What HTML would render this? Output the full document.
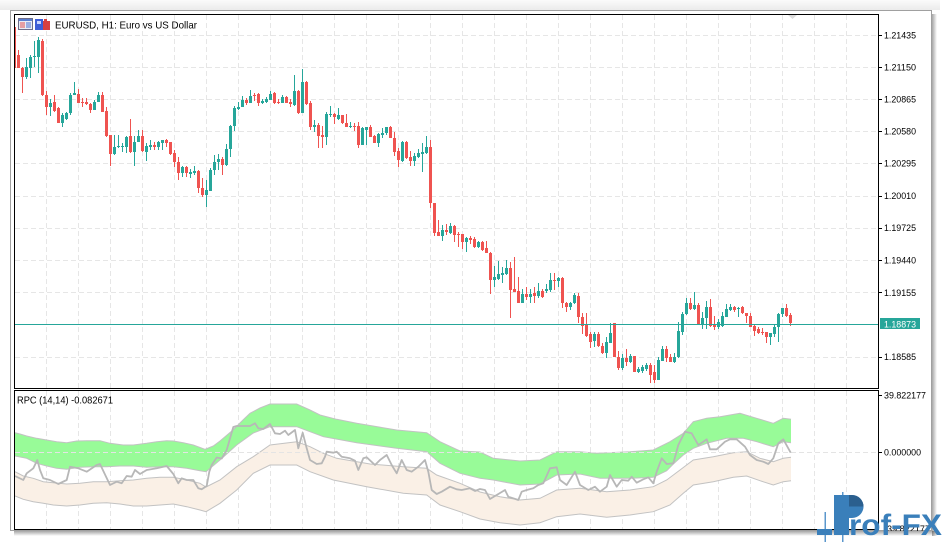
<!DOCTYPE html>
<html><head><meta charset="utf-8"><style>
html,body{margin:0;padding:0;background:#fff;}
svg{display:block;}
text{font-family:"Liberation Sans",sans-serif;}
</style></head><body>
<svg width="944" height="542" viewBox="0 0 944 542" xmlns="http://www.w3.org/2000/svg">
<defs>
<linearGradient id="tg" x1="0" y1="0" x2="0" y2="1"><stop offset="0" stop-color="#fbfbfb"/><stop offset="1" stop-color="#ebebeb"/></linearGradient>
<linearGradient id="sr" x1="0" y1="0" x2="1" y2="0"><stop offset="0" stop-color="#000" stop-opacity="0.35"/><stop offset="1" stop-color="#000" stop-opacity="0"/></linearGradient>
<linearGradient id="sb" x1="0" y1="0" x2="0" y2="1"><stop offset="0" stop-color="#000" stop-opacity="0.35"/><stop offset="1" stop-color="#000" stop-opacity="0"/></linearGradient>
<clipPath id="mc"><rect x="15" y="15" width="863" height="373"/></clipPath>
<clipPath id="ic"><rect x="15" y="391" width="863" height="138"/></clipPath>
<clipPath id="wc"><rect x="10" y="10" width="922" height="521"/></clipPath>
</defs>
<rect x="0" y="0" width="944" height="542" fill="#fff"/>
<rect x="0" y="0" width="940" height="10" fill="url(#tg)"/>
<rect x="932" y="14" width="5" height="522" fill="url(#sr)"/>
<rect x="14" y="531" width="923" height="5" fill="url(#sb)"/>
<rect x="10.5" y="10.5" width="921" height="520" fill="#fff" stroke="#a0a0a0"/>

<!-- main grid -->
<g stroke="#e6e6e6" stroke-width="1" stroke-dasharray="5 3" fill="none">
<path d="M46.5 15V388M78.5 15V388M110.5 15V388M142.5 15V388M174.5 15V388M206.5 15V388M238.5 15V388M270.5 15V388M302.5 15V388M334.5 15V388M366.5 15V388M398.5 15V388M430.5 15V388M462.5 15V388M494.5 15V388M526.5 15V388M558.5 15V388M590.5 15V388M622.5 15V388M654.5 15V388M686.5 15V388M718.5 15V388M750.5 15V388M782.5 15V388M814.5 15V388M846.5 15V388"/>
<path d="M15 35.5H878M15 67.5H878M15 99.5H878M15 131.5H878M15 163.5H878M15 196.5H878M15 228.5H878M15 260.5H878M15 292.5H878M15 357.5H878"/>
<path d="M46.5 391V529M78.5 391V529M110.5 391V529M142.5 391V529M174.5 391V529M206.5 391V529M238.5 391V529M270.5 391V529M302.5 391V529M334.5 391V529M366.5 391V529M398.5 391V529M430.5 391V529M462.5 391V529M494.5 391V529M526.5 391V529M558.5 391V529M590.5 391V529M622.5 391V529M654.5 391V529M686.5 391V529M718.5 391V529M750.5 391V529M782.5 391V529M814.5 391V529M846.5 391V529"/>
</g>
<polygon points="788,15 797,15 792.5,19" fill="#dcdcdc"/>

<!-- candles -->
<g clip-path="url(#mc)">
<rect x="15" y="27" width="1" height="41" fill="#ef5350"/>
<path fill="none" stroke="#ef5350" stroke-width="1" d="M18.5 50V68M22.5 67V93M42.5 39V96M46.5 91V115M54.5 95V112M58.5 107V123M78.5 89V103M82.5 98V107M86.5 98V105M90.5 103V113M102.5 92V112M106.5 107V137M110.5 135V166M130.5 119V153M142.5 130V152M154.5 142V150M166.5 139V147M170.5 142V155M174.5 150V167M178.5 157V180M186.5 166V177M198.5 170V193M202.5 178V197M222.5 157V175M246.5 98V105M254.5 93V101M258.5 93V106M274.5 92V104M278.5 99V104M286.5 96V103M290.5 99V107M298.5 90V114M306.5 81V105M310.5 101V130M318.5 123V148M322.5 126V148M334.5 113V124M342.5 115V124M346.5 114V127M354.5 123V131M358.5 122V148M370.5 125V137M374.5 135V143M390.5 126V138M394.5 132V156M398.5 148V167M406.5 141V159M410.5 151V166M430.5 140V208M434.5 203V236M438.5 220V236M446.5 224V235M454.5 225V242M458.5 232V247M462.5 234V249M470.5 236V244M474.5 237V248M482.5 241V251M486.5 241V253M490.5 252V294M510.5 262V318M514.5 257V292M518.5 277V303M526.5 287V300M534.5 287V303M542.5 289V298M554.5 273V290M562.5 277V308M566.5 302V312M578.5 293V323M582.5 313V334M586.5 313V337M590.5 332V348M598.5 332V347M602.5 343V354M614.5 323V357M618.5 351V370M626.5 349V366M634.5 356V372M650.5 363V383M654.5 365V383M666.5 346V362M670.5 354V362M690.5 298V310M698.5 303V324M710.5 299V327M714.5 316V330M734.5 306V312M742.5 306V314M746.5 313V323M750.5 313V327M754.5 325V336M758.5 327V334M762.5 328V335M766.5 332V343M786.5 304V317M790.5 313V326"/>
<path fill="#ef5350" d="M17 55h3v13h-3zM21 68h3v9h-3zM41 41h3v54h-3zM45 95h3v12h-3zM53 102h3v9h-3zM57 108h3v15h-3zM77 94h3v9h-3zM81 102h3v1h-3zM85 102h3v2h-3zM89 104h3v6h-3zM101 95h3v17h-3zM105 111h3v25h-3zM109 135h3v19h-3zM129 136h3v16h-3zM141 136h3v15h-3zM153 145h3v2h-3zM165 140h3v3h-3zM169 142h3v12h-3zM173 153h3v9h-3zM177 162h3v11h-3zM185 167h3v6h-3zM197 171h3v17h-3zM201 188h3v7h-3zM221 159h3v6h-3zM245 100h3v3h-3zM253 95h3v1h-3zM257 94h3v9h-3zM273 93h3v10h-3zM277 102h3v1h-3zM285 97h3v6h-3zM289 102h3v2h-3zM297 91h3v22h-3zM305 82h3v22h-3zM309 103h3v24h-3zM317 125h3v11h-3zM321 135h3v2h-3zM333 114h3v3h-3zM341 115h3v8h-3zM345 123h3v4h-3zM353 126h3v1h-3zM357 126h3v19h-3zM369 127h3v10h-3zM373 136h3v7h-3zM389 127h3v11h-3zM393 138h3v14h-3zM397 151h3v9h-3zM405 142h3v16h-3zM409 157h3v4h-3zM429 147h3v56h-3zM433 203h3v30h-3zM437 232h3v4h-3zM445 230h3v2h-3zM453 226h3v9h-3zM457 234h3v1h-3zM461 234h3v8h-3zM469 238h3v2h-3zM473 239h3v8h-3zM481 242h3v8h-3zM485 248h3v5h-3zM489 253h3v27h-3zM509 268h3v22h-3zM513 289h3v3h-3zM517 291h3v12h-3zM525 294h3v3h-3zM533 293h3v3h-3zM541 291h3v6h-3zM553 280h3v1h-3zM561 278h3v25h-3zM565 303h3v4h-3zM577 296h3v21h-3zM581 317h3v9h-3zM585 325h3v11h-3zM589 334h3v8h-3zM597 334h3v12h-3zM601 346h3v7h-3zM613 323h3v34h-3zM617 357h3v11h-3zM625 358h3v4h-3zM633 356h3v16h-3zM649 365h3v10h-3zM653 372h3v8h-3zM665 349h3v9h-3zM669 357h3v5h-3zM689 303h3v6h-3zM697 305h3v19h-3zM709 307h3v19h-3zM713 324h3v3h-3zM733 307h3v3h-3zM741 307h3v6h-3zM745 313h3v3h-3zM749 316h3v11h-3zM753 326h3v5h-3zM757 329h3v4h-3zM761 332h3v1h-3zM765 332h3v5h-3zM785 308h3v8h-3zM789 315h3v8h-3z"/>
<path fill="none" stroke="#26a69a" stroke-width="1" d="M26.5 58V79M30.5 55V78M34.5 41V67M38.5 37V73M50.5 99V116M62.5 113V127M66.5 112V120M70.5 93V115M74.5 82V95M94.5 100V110M98.5 92V102M114.5 135V155M118.5 135V148M122.5 143V152M126.5 136V153M134.5 136V166M138.5 130V142M146.5 143V161M150.5 140V150M158.5 141V150M162.5 140V150M182.5 166V177M190.5 169V178M194.5 166V175M206.5 180V207M210.5 168V191M214.5 155V175M218.5 154V170M226.5 144V166M230.5 125V157M234.5 106V131M238.5 102V110M242.5 96V107M250.5 90V103M262.5 99V104M266.5 97V103M270.5 91V100M282.5 95V103M294.5 75V106M302.5 69V113M314.5 120V132M326.5 112V145M330.5 106V117M338.5 108V120M350.5 122V128M362.5 127V145M366.5 127V145M378.5 133V147M382.5 128V138M386.5 127V135M402.5 141V162M414.5 153V166M418.5 149V158M422.5 143V172M426.5 136V154M442.5 225V241M450.5 223V234M466.5 237V252M478.5 241V248M494.5 266V287M498.5 261V280M502.5 267V283M506.5 260V275M522.5 289V303M530.5 289V303M538.5 283V298M546.5 284V293M550.5 273V292M558.5 277V287M570.5 302V310M574.5 293V304M594.5 332V347M606.5 337V358M610.5 323V343M622.5 354V370M630.5 354V363M638.5 367V373M642.5 365V373M646.5 363V371M658.5 357V380M662.5 346V361M674.5 353V363M678.5 322V358M682.5 312V335M686.5 298V315M694.5 292V310M702.5 312V329M706.5 301V329M718.5 319V329M722.5 312V327M726.5 304V317M730.5 304V311M738.5 307V317M770.5 333V345M774.5 325V337M778.5 313V342M782.5 308V317"/>
<path fill="#26a69a" d="M25 67h3v10h-3zM29 57h3v11h-3zM33 56h3v1h-3zM37 40h3v17h-3zM49 103h3v4h-3zM61 115h3v8h-3zM65 113h3v6h-3zM69 95h3v18h-3zM73 93h3v2h-3zM93 102h3v8h-3zM97 95h3v7h-3zM113 147h3v7h-3zM117 146h3v1h-3zM121 146h3v1h-3zM125 137h3v10h-3zM133 142h3v10h-3zM137 136h3v6h-3zM145 146h3v6h-3zM149 145h3v2h-3zM157 142h3v5h-3zM161 140h3v3h-3zM181 167h3v6h-3zM189 172h3v2h-3zM193 171h3v2h-3zM205 190h3v5h-3zM209 170h3v21h-3zM213 162h3v8h-3zM217 159h3v3h-3zM225 149h3v16h-3zM229 126h3v23h-3zM233 108h3v18h-3zM237 107h3v2h-3zM241 100h3v7h-3zM249 96h3v7h-3zM261 101h3v2h-3zM265 99h3v3h-3zM269 94h3v6h-3zM281 97h3v6h-3zM293 91h3v14h-3zM301 82h3v31h-3zM313 125h3v2h-3zM325 114h3v23h-3zM329 114h3v1h-3zM337 115h3v4h-3zM349 126h3v1h-3zM361 128h3v17h-3zM365 127h3v3h-3zM377 134h3v9h-3zM381 133h3v2h-3zM385 127h3v6h-3zM401 142h3v19h-3zM413 156h3v5h-3zM417 153h3v4h-3zM421 152h3v2h-3zM425 147h3v6h-3zM441 230h3v6h-3zM449 226h3v7h-3zM465 238h3v4h-3zM477 242h3v5h-3zM493 277h3v3h-3zM497 274h3v5h-3zM501 273h3v2h-3zM505 268h3v6h-3zM521 294h3v9h-3zM529 294h3v3h-3zM537 291h3v5h-3zM545 289h3v2h-3zM549 280h3v10h-3zM557 278h3v3h-3zM569 303h3v4h-3zM573 295h3v8h-3zM593 334h3v7h-3zM605 342h3v11h-3zM609 333h3v10h-3zM621 358h3v10h-3zM629 356h3v6h-3zM637 369h3v3h-3zM641 367h3v4h-3zM645 365h3v4h-3zM657 360h3v20h-3zM661 349h3v12h-3zM673 357h3v5h-3zM677 331h3v26h-3zM681 314h3v18h-3zM685 303h3v11h-3zM693 305h3v4h-3zM701 318h3v6h-3zM705 307h3v11h-3zM717 322h3v5h-3zM721 316h3v10h-3zM725 309h3v8h-3zM729 307h3v3h-3zM737 308h3v1h-3zM769 333h3v4h-3zM773 327h3v7h-3zM777 314h3v13h-3zM781 308h3v6h-3z"/>
<path d="M15 324.5H878" stroke="#26a69a" stroke-width="1"/>
</g>

<!-- indicator -->
<g clip-path="url(#ic)">
<polygon fill="#98fb98" stroke="none" points="15,432.7 20,434 26.7,436 36.7,438.3 46.7,440 56.7,441.7 66.7,442.7 76.7,441 86.7,440.7 100,440.7 110,443.3 123.3,445 133.3,445 146.7,443.3 156.7,441.7 166.7,440.7 173.3,441 183.3,442.7 193.3,445 205,449.3 213.3,446 220,441 233,430 243,420 250,413.3 260,408 270,404 296.7,404 310,410 320,415 336.7,419.3 356.7,423.3 396.7,430 426.7,432.7 440,441.7 460,451 480,452 493.3,458.3 520,461 540,460 556.7,451.7 580,451.7 596.7,453.3 630,451.7 653.3,450 670,441.7 683.3,433.3 693.3,421.7 706.7,418.3 720,416.7 740,413.3 756.7,418.3 773.3,423.3 783.3,418.3 791,419.3 791,442.7 783.3,441.7 773.3,446.7 756.7,441.7 743.3,438.3 726.7,438.3 706.7,443.3 693.3,448.3 683.3,455 673.3,464 666.7,470.7 653.3,477.3 630,478.3 600,478.3 580,474 556.7,475 540,484 520,485 493.3,480 480,478.3 460,473.3 440,463.3 426.7,451.7 396.7,448.3 356.7,442.7 323.3,436.7 310,431.7 296.7,426.7 270,426.7 253.3,433 236.7,445 220,460 206,471.7 200,470.7 186.7,468.3 173.3,466.7 160,466.7 146.7,467.3 133.3,466 120,466 106.7,466.7 93.3,466.7 80,467.3 66.7,469.3 56.7,468.3 46.7,466 36.7,463.3 26.7,458.3 15,456"/>
<polygon fill="#faf0e6" stroke="none" points="15,471.7 23.3,476 33.3,478.3 43.3,481.7 53.3,482.7 66.7,484 80,483.3 93.3,481.7 106.7,481.7 120,480.7 133.3,480 146.7,478.3 160,477.3 173.3,477.3 186.7,480 200,483.3 206,487 220,480 236.7,466.7 253.3,456.7 270,445 296.7,441.7 310,446.7 323.3,453.3 336.7,458.3 370,464 403.3,466.7 426.7,468.3 436.7,475 460,483.3 480,492 500,496.7 520,500 540,498.3 556.7,490 580,488.3 606.7,491.7 630,490 653.3,486.7 666.7,480 680,470 693.3,460 713.3,456.7 733.3,452.7 746.7,451.7 760,458.3 773.3,461.7 783.3,458.3 791,457.3 791,480.7 783.3,481.7 773.3,485 760,480.7 746.7,476 733.3,477.3 713.3,481.7 693.3,485 683.3,493.3 670,505 653.3,511.7 630,515 606.7,517.3 580,514 556.7,516.7 540,522.7 520,525 500,522.7 480,519 460,511.7 440,505 426.7,495 403.3,493.3 366.7,486.7 333.3,480 310,471.7 296.7,465 270,465 253.3,473.3 236.7,490 220,503.3 206,511.7 200,510 186.7,506.7 173.3,504 160,505 146.7,506 133.3,506 120,504 106.7,502.7 93.3,503.3 80,505 66.7,506 53.3,505 43.3,503.3 33.3,501.7 23.3,499.3 15,496"/>
<g fill="none" stroke="#c2c2c2" stroke-width="1">
<polyline points="15,432.7 20,434 26.7,436 36.7,438.3 46.7,440 56.7,441.7 66.7,442.7 76.7,441 86.7,440.7 100,440.7 110,443.3 123.3,445 133.3,445 146.7,443.3 156.7,441.7 166.7,440.7 173.3,441 183.3,442.7 193.3,445 205,449.3 213.3,446 220,441 233,430 243,420 250,413.3 260,408 270,404 296.7,404 310,410 320,415 336.7,419.3 356.7,423.3 396.7,430 426.7,432.7 440,441.7 460,451 480,452 493.3,458.3 520,461 540,460 556.7,451.7 580,451.7 596.7,453.3 630,451.7 653.3,450 670,441.7 683.3,433.3 693.3,421.7 706.7,418.3 720,416.7 740,413.3 756.7,418.3 773.3,423.3 783.3,418.3 791,419.3"/>
<polyline points="15,456 26.7,458.3 36.7,463.3 46.7,466 56.7,468.3 66.7,469.3 80,467.3 93.3,466.7 106.7,466.7 120,466 133.3,466 146.7,467.3 160,466.7 173.3,466.7 186.7,468.3 200,470.7 206,471.7 220,460 236.7,445 253.3,433 270,426.7 296.7,426.7 310,431.7 323.3,436.7 356.7,442.7 396.7,448.3 426.7,451.7 440,463.3 460,473.3 480,478.3 493.3,480 520,485 540,484 556.7,475 580,474 600,478.3 630,478.3 653.3,477.3 666.7,470.7 673.3,464 683.3,455 693.3,448.3 706.7,443.3 726.7,438.3 743.3,438.3 756.7,441.7 773.3,446.7 783.3,441.7 791,442.7"/>
<polyline points="15,471.7 23.3,476 33.3,478.3 43.3,481.7 53.3,482.7 66.7,484 80,483.3 93.3,481.7 106.7,481.7 120,480.7 133.3,480 146.7,478.3 160,477.3 173.3,477.3 186.7,480 200,483.3 206,487 220,480 236.7,466.7 253.3,456.7 270,445 296.7,441.7 310,446.7 323.3,453.3 336.7,458.3 370,464 403.3,466.7 426.7,468.3 436.7,475 460,483.3 480,492 500,496.7 520,500 540,498.3 556.7,490 580,488.3 606.7,491.7 630,490 653.3,486.7 666.7,480 680,470 693.3,460 713.3,456.7 733.3,452.7 746.7,451.7 760,458.3 773.3,461.7 783.3,458.3 791,457.3"/>
<polyline points="15,496 23.3,499.3 33.3,501.7 43.3,503.3 53.3,505 66.7,506 80,505 93.3,503.3 106.7,502.7 120,504 133.3,506 146.7,506 160,505 173.3,504 186.7,506.7 200,510 206,511.7 220,503.3 236.7,490 253.3,473.3 270,465 296.7,465 310,471.7 333.3,480 366.7,486.7 403.3,493.3 426.7,495 440,505 460,511.7 480,519 500,522.7 520,525 540,522.7 556.7,516.7 580,514 606.7,517.3 630,515 653.3,511.7 670,505 683.3,493.3 693.3,485 713.3,481.7 733.3,477.3 746.7,476 760,480.7 773.3,485 783.3,481.7 791,480.7"/>
</g>
<path d="M15 452.5H878" stroke="#e4e4e4" stroke-width="1" stroke-dasharray="5 3"/>
<polyline fill="none" stroke="#b7b7b7" stroke-width="1.8" stroke-linejoin="round" points="15,476 23.3,480 26.7,473.3 33.3,468.3 37.3,460 40,470 43.3,478.3 50,480 58.3,484 66.7,480 70,466.7 78.3,468.3 86.7,471.7 96.7,465 100,464 110,485 116.7,481.7 121.7,483.3 126.7,476 131.7,476.7 135,470 140,474 146.7,470 156.7,468.3 163.3,466.7 166.7,466 173.3,474 178.3,483.3 181.7,478.3 186.7,480 193.3,480 198.3,488.3 201.7,489.3 206.7,486 209.3,471.7 211.7,465 216.7,457.5 221.7,458.5 226.7,450 233.3,427 236.7,426 250,426 255,423.3 258.3,428.3 263.3,429 270,424 275,433.3 280,434 285,430.7 288.3,435 295,430 298.3,448.3 302.7,432.7 306.7,448.3 310,460 316.7,464 321.7,463.3 325,456.7 326.7,451.7 333.3,452.7 336.7,451.7 341.7,456.7 350,458.3 355,460.7 358.3,470 363.3,458.3 366.7,457.3 375,465 380,460 386.7,455 391.7,465 396.7,473.3 401.7,460 406.7,470 411.7,471.7 418.3,466.7 425,460 428.3,471.7 431.7,490 436.7,494 441.7,491.7 450,486.7 456.7,489.3 461.7,490 470,488.3 475,491 480,489 485,490 490,499 496.7,495 505,490 508.3,496.7 513.3,498.3 518.3,500 521.7,491.7 526.7,490 533.3,488.3 538.3,485 543.3,483.3 550,468.3 556.7,467.3 560,480 566.7,485 575,471.7 580,485 588.3,490 595,486.7 600,491.7 606.7,486.7 610,475 616.7,486.7 621.7,480 628.3,480.7 631.7,476.7 636.7,482.7 643.3,479.3 648.3,477.3 653.3,483.3 656.7,471.7 661.7,458.3 666.7,464 673.3,463.3 678.3,445 685,431.7 691.7,433.3 698.3,445 703.3,441.7 706.7,439.3 710,449.3 716.7,449.3 725,441.7 730,439.3 736.7,439.3 745,446.7 750,455 756.7,460 763.3,461.7 768.3,464 773.3,458.3 778.3,443.3 783.3,439.3 790.7,452.7"/>
</g>

<!-- panel borders -->
<rect x="14.5" y="14.5" width="864" height="374" fill="none" stroke="#000" stroke-width="1"/>
<rect x="14.5" y="390.5" width="864" height="139" fill="none" stroke="#000" stroke-width="1"/>

<!-- axis ticks -->
<path stroke="#000" stroke-width="1" d="M878 35.5h4M878 67.5h4M878 99.5h4M878 131.5h4M878 163.5h4M878 196.5h4M878 228.5h4M878 260.5h4M878 292.5h4M878 357.5h4M878 395.5h4M878 452.5h4"/>
<g font-size="9.5" fill="#000">
<text x="884" y="38.5" textLength="32" lengthAdjust="spacingAndGlyphs">1.21435</text>
<text x="884" y="70.5" textLength="32" lengthAdjust="spacingAndGlyphs">1.21150</text>
<text x="884" y="102.5" textLength="32" lengthAdjust="spacingAndGlyphs">1.20865</text>
<text x="884" y="134.5" textLength="32" lengthAdjust="spacingAndGlyphs">1.20580</text>
<text x="884" y="166.5" textLength="32" lengthAdjust="spacingAndGlyphs">1.20295</text>
<text x="884" y="199" textLength="32" lengthAdjust="spacingAndGlyphs">1.20010</text>
<text x="884" y="231" textLength="32" lengthAdjust="spacingAndGlyphs">1.19725</text>
<text x="884" y="263.5" textLength="32" lengthAdjust="spacingAndGlyphs">1.19440</text>
<text x="884" y="296" textLength="32" lengthAdjust="spacingAndGlyphs">1.19155</text>
<text x="884" y="360" textLength="32" lengthAdjust="spacingAndGlyphs">1.18585</text>
<text x="884" y="398.5" textLength="42" lengthAdjust="spacingAndGlyphs">39.822177</text>
<text x="884" y="455.5" textLength="37" lengthAdjust="spacingAndGlyphs">0.000000</text>
<text x="884" y="532" textLength="46" lengthAdjust="spacingAndGlyphs" clip-path="url(#wc)">-39.822177</text>
</g>
<rect x="880" y="318" width="40" height="11" fill="#26a69a"/>
<text x="884" y="327.5" font-size="9.5" fill="#fff" textLength="32" lengthAdjust="spacingAndGlyphs">1.18873</text>

<!-- title -->
<rect x="18.5" y="18.5" width="14" height="11" fill="#e8ecf6" stroke="#6d6d8a"/>
<rect x="19" y="19" width="13" height="2" fill="#5b7fd0"/>
<path d="M20 23h5M20 25h5M20 27h5" stroke="#e05050" stroke-width="1"/>
<path d="M26 23h5M26 25h5M26 27h5" stroke="#4a6fd0" stroke-width="1"/>
<rect x="35" y="19" width="8" height="11" fill="#3e5ed6"/>
<rect x="37" y="21" width="4" height="3" fill="#c8d4ff"/>
<rect x="43" y="21" width="7" height="9" fill="#d84040"/>
<rect x="44" y="19" width="3" height="3" fill="#d84040"/>
<text x="55" y="28.5" font-size="10.5" fill="#000" textLength="142" lengthAdjust="spacingAndGlyphs">EURUSD, H1:  Euro vs US Dollar</text>
<text x="17" y="403.5" font-size="10" fill="#000" textLength="96" lengthAdjust="spacingAndGlyphs">RPC (14,14) -0.082671</text>

<!-- logo -->
<g>
<rect x="824.5" y="512" width="1.5" height="30" fill="#5b97cc"/>
<rect x="842" y="492" width="1.5" height="50" fill="#5b97cc"/>
<rect x="817" y="529" width="15" height="6" fill="#3a7fba"/>
<path d="M834 495H852A11.5 11.5 0 0 1 852 518H849V535H834Z" fill="#3a7fba"/>
<path d="M849 495H852A11.5 11.5 0 0 1 863.5 506.5H849Z" fill="#2b5f8e"/>
<text x="849" y="535" font-size="30" font-weight="bold" fill="#3a7fba" textLength="93" lengthAdjust="spacingAndGlyphs">rof-FX</text>
</g>
</svg>
</body></html>
